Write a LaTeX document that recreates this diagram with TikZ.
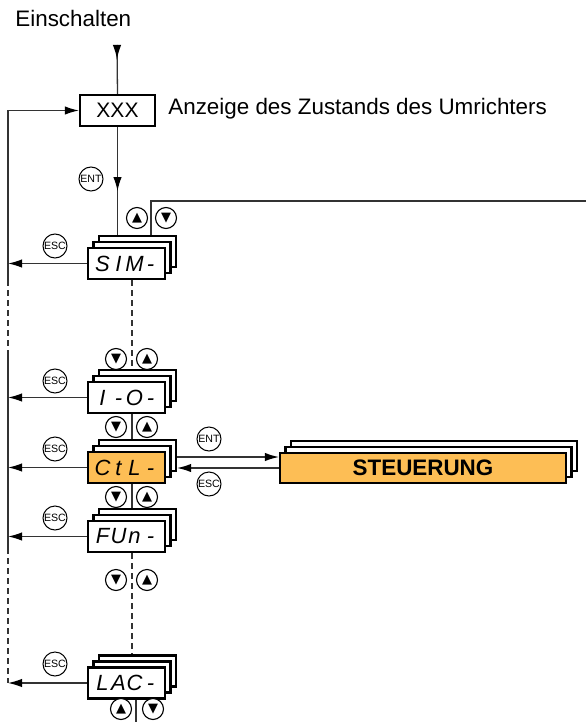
\documentclass[tikz,border=0pt]{standalone}
\usepackage{fontspec}
\setmainfont{Liberation Sans}
\newfontfamily\symfont{DejaVu Sans}
\usepackage{tikz}
\usetikzlibrary{arrows.meta, positioning, calc, shadows}
\usepackage{xcolor}
\definecolor{menuorange}{RGB}{253,190,85}
\newcommand{\lcd}[4]{\itshape\makebox[8pt]{#1}\makebox[8pt]{#2}\makebox[8pt]{#3}\makebox[8pt]{#4}}

\begin{document}
\begin{tikzpicture}[x=0.5pt, y=-0.5pt,
  conn/.style={draw=black!80, line width=0.65pt},
  arr/.style={conn, -{Latex[length=7pt, width=4.2pt, color=black]}},
  dashline/.style={dash pattern=on 3pt off 2pt},
  menu/.style={draw, line width=1.1pt, fill=white, minimum width=38.5pt, minimum height=15.5pt, inner sep=0pt,
    font=\fontsize{11}{12}\selectfont,
    copy shadow={shadow xshift=5.5pt, shadow yshift=6pt, draw=black, fill=white, line width=1.1pt},
    copy shadow={shadow xshift=2.75pt, shadow yshift=3pt, draw=black, fill=white, line width=1.1pt}},
  keybtn/.style={circle, draw, line width=0.5pt, fill=white, inner sep=0pt, minimum size=12pt, font=\fontsize{5.3}{6}\selectfont},
  arrbtn/.style={circle, draw, line width=0.55pt, fill=white, inner sep=0pt, minimum size=10.5pt, font=\symfont\fontsize{6.5}{7}\selectfont},
  plaintext/.style={font=\fontsize{11.2}{13}\selectfont, inner sep=0pt}
]
  \useasboundingbox (0,0) rectangle (586,722);

  % power on and state display
  \node[plaintext, anchor=base west] (power) at (15,27) {Einschalten};
  \coordinate (on) at (117,45);
  \node[draw, line width=1.1pt, minimum width=37.5pt, minimum height=15.5pt, inner sep=0pt,
    font=\fontsize{10.5}{12}\selectfont] (xxx) at (117.5,110.5) {XXX};
  \node[plaintext, anchor=base west] (state) at (168,114) {Anzeige des Zustands des Umrichters};

  % menu stack
  \node[menu] (sin) at (126.5,263.5) {\lcd{S}{I}{M}{-}};
  \node[menu] (io) at (126.5,397.5) {\lcd{I}{-}{O}{-}};
  \node[menu, fill=menuorange] (ctl) at (126.5,467.5) {\lcd{C}{t}{L}{-}};
  \node[menu] (fun) at (126.5,536.5) {\lcd{F}{U}{n}{-}};
  \node[menu] (lac) at (126.5,683) {\lcd{L}{A}{C}{-}};
  \node[menu, fill=menuorange, minimum width=143pt, minimum height=15pt,
    font=\fontsize{11.2}{13}\selectfont\bfseries] (steu) at (423,468) {STEUERUNG};

  % entry path
  \draw[conn] (on) -- (xxx.north);
  \draw[arr] (on) -- ++(0,14);
  \coordinate (sintop) at ($(sin.north)+(0,-12)$);
  \draw[conn] (xxx.south) -- (xxx.south |- sintop);
  \draw[arr] (xxx.south) -- ++(0,64);
  \draw[conn] ($(sintop)+(24.5,0)$) |- (586,201);

  % return rail
  \coordinate (rail) at (8,0);
  \draw[arr] (8,280) |- (xxx.west);
  \draw[conn, dashline] (8,280) -- (8,352);
  \draw[conn] (8,352) -- (8,548);
  \draw[conn, dashline] (8,548) -- (lac.west -| rail);
  \foreach \m in {sin, io, ctl, fun, lac}
    \draw[arr] (\m.west) -- (\m.west -| rail);

  % links between menus
  \draw[conn, dashline] ($(sin.south)+(5.5,0)$) -- ($(io.north)+(5.5,-12)$);
  \draw[conn] ($(io.south)+(5.5,0)$) -- ($(ctl.north)+(5.5,-12)$);
  \draw[conn] ($(ctl.south)+(5.5,0)$) -- ($(fun.north)+(5.5,-12)$);
  \draw[conn, dashline] ($(fun.south)+(5.5,0)$) -- ($(lac.north)+(5.5,-12)$);
  \draw[conn] ($(lac.south)+(9.5,0)$) -- ++(0,26);

  % submenu
  \coordinate (ctlback) at ($(ctl.east)+(11,0)$);
  \draw[arr] ($(ctlback)+(0,-10.5)$) -- ($(steu.west)+(0,-11)$);
  \draw[arr] (steu.west) -- (steu.west -| ctlback);

  % keys
  \node[keybtn] (ent) at (91,179) {ENT};
  \node[arrbtn] (sinup) at (137,218) {▲};
  \node[arrbtn] (sindn) at (166,218) {▼};
  \foreach \m/\y in {sin/246, io/381, ctl/449, fun/518, lac/664}
    \node[keybtn] (\m esc) at (55,\y) {ESC};
  \foreach \n/\y in {a/359, b/427, c/497, d/580} {
    \node[arrbtn] (\n dn) at (116,\y) {▼};
    \node[arrbtn] (\n up) at (147,\y) {▲};
  }
  \node[arrbtn] (lacup) at (121,709) {▲};
  \node[arrbtn] (lacdn) at (153,709) {▼};
  \node[keybtn] (steuent) at (209,439) {ENT};
  \node[keybtn] (steuesc) at (209,484) {ESC};
\end{tikzpicture}
\end{document}
